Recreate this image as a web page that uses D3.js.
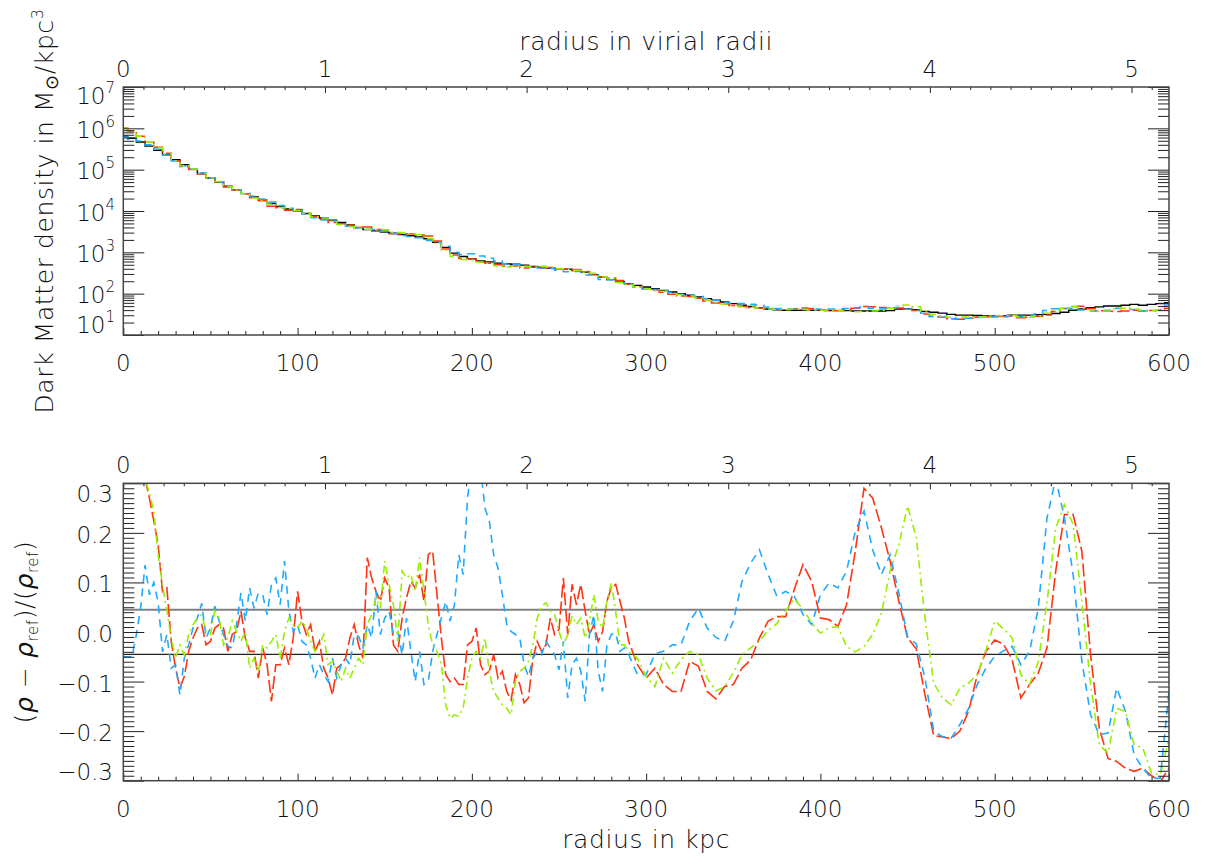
<!DOCTYPE html>
<html>
<head>
<meta charset="utf-8">
<script src="https://cdn.jsdelivr.net/npm/d3@7"></script>
<style>
  html, body { margin: 0; padding: 0; background: #fff; }
  svg text { font-family: "DejaVu Sans", sans-serif; font-weight: 200; fill: #111; }
</style>
</head>
<body>
<svg id="chart" width="1205" height="858"></svg>
<script>
"use strict";

// radial bins in kpc: 2.5 kpc steps inside 290 kpc, 5 kpc steps outside
const radii = [...d3.range(0, 290, 2.5), ...d3.range(290, 601, 5)];

// reference (black) profile, log10 of density, one bin every 5 kpc
const refRadii = d3.range(0, 601, 5);
const refLogDensity = [
  5.81, 5.76, 5.67, 5.57, 5.47, 5.36, 5.24, 5.12, 5.01, 4.90,
  4.80, 4.70, 4.60, 4.51, 4.42, 4.34, 4.26, 4.18, 4.11, 4.05,
  4.00, 3.94, 3.88, 3.83, 3.78, 3.72, 3.66, 3.60, 3.55, 3.52,
  3.49, 3.46, 3.43, 3.40, 3.37, 3.33, 3.24, 3.12, 2.98, 2.90,
  2.84, 2.79, 2.77, 2.74, 2.72, 2.71, 2.69, 2.66, 2.64, 2.62,
  2.60, 2.59, 2.56, 2.52, 2.46, 2.40, 2.34, 2.29, 2.24, 2.20,
  2.16, 2.12, 2.08, 2.04, 2.00, 1.96, 1.92, 1.88, 1.84, 1.80,
  1.76, 1.72, 1.69, 1.66, 1.63, 1.61, 1.60, 1.60, 1.60, 1.60,
  1.60, 1.59, 1.59, 1.59, 1.58, 1.58, 1.58, 1.58, 1.59, 1.63,
  1.63, 1.61, 1.57, 1.55, 1.53, 1.50, 1.48, 1.48, 1.47, 1.46,
  1.46, 1.46, 1.48, 1.48, 1.48, 1.49, 1.50, 1.52, 1.55, 1.60,
  1.63, 1.66, 1.68, 1.70, 1.70, 1.72, 1.74, 1.72, 1.74, 1.76,
  1.78
];

// (rho - rho_ref)/rho_ref of the three runs, on the radii grid
const relRed = [
  0.58, 0.55, 0.50, 0.45, 0.38, 0.31, 0.27, 0.224, 0.176, 0.082,
  0.089, -0.019, -0.073, -0.113, -0.09, -0.039, -0.012, 0.008, 0.015, -0.026,
  -0.019, 0.008, 0.015, 0.008, -0.039, -0.005, 0.001, 0.042, -0.012, -0.039,
  -0.039, -0.093, -0.032, -0.066, -0.14, -0.066, -0.066, -0.032, -0.066, -0.012,
  0.082, 0.022, -0.005, 0.015, -0.039, -0.019, -0.073, -0.093, -0.127, -0.073,
  -0.066, -0.053, -0.012, 0.015, -0.026, -0.053, 0.15, 0.109, 0.082, 0.062,
  0.109, 0.089, -0.026, -0.039, 0.028, 0.069, 0.102, 0.089, 0.116, 0.062,
  0.156, 0.163, 0.075, -0.012, -0.086, -0.1, -0.093, -0.106, -0.106, -0.026,
  -0.019, 0.008, -0.066, -0.086, -0.079, -0.046, -0.093, -0.079, -0.12, -0.137,
  -0.086, -0.106, -0.143, -0.133, -0.053, -0.019, -0.039, -0.026, 0.028, -0.005,
  0.005, 0.109, -0.005, 0.096, 0.055, 0.096, 0.042, -0.005, 0.015, -0.019,
  0.001, 0.062, 0.089, 0.096, 0.062, 0.028,
  -0.019, -0.066, -0.093, -0.073, -0.106, -0.12, -0.12, -0.059, -0.069, -0.12,
  -0.135, -0.11, -0.106, -0.073, -0.056, -0.012, 0.022, 0.031, 0.031, 0.086,
  0.136, 0.102, 0.028, 0.025, 0.011, 0.055, 0.163, 0.29, 0.27, 0.21,
  0.143, 0.062, -0.012, -0.034, -0.127, -0.209, -0.212, -0.215, -0.2, -0.16,
  -0.086, -0.039, -0.016, -0.024, -0.056, -0.133, -0.106, -0.083, -0.032, 0.123,
  0.237, 0.237, 0.163, -0.046, -0.194, -0.255, -0.261, -0.275, -0.281, -0.275,
  -0.29, -0.302, -0.275
];

const relBlue = [
  -0.05, -0.05, -0.05, -0.005, 0.05, 0.135, 0.075, 0.1, 0.06, -0.04,
  -0.005, -0.073, -0.066, -0.127, -0.053, -0.026, 0.008, 0.028, 0.058, -0.012,
  0.008, 0.052, 0.022, -0.005, -0.029, -0.032, 0.015, 0.079, 0.022, 0.089,
  0.048, 0.079, 0.075, 0.035, 0.096, 0.109, 0.055, 0.143, 0.042, 0.001,
  0.015, -0.019, -0.026, -0.053, -0.093, -0.066, -0.086, -0.1, -0.053, -0.093,
  -0.066, -0.053, -0.066, -0.005, -0.009, -0.032, 0.015, -0.012, 0.082, -0.005,
  0.028, 0.042, -0.005, 0.001, -0.046, 0.028, -0.039, -0.1, -0.039, -0.106,
  -0.1, -0.039, -0.005, 0.028, 0.062, 0.022, 0.055, 0.156, 0.116, 0.27,
  0.34, 0.34, 0.33, 0.25, 0.224, 0.156, 0.129, 0.075, 0.015, 0.001,
  -0.005, -0.012, -0.066, -0.09, -0.053, -0.039, -0.046, -0.019, -0.032, -0.046,
  -0.076, -0.019, -0.133, -0.066, -0.053, -0.079, -0.14, -0.005, 0.035, -0.079,
  -0.12, -0.026, -0.005, -0.002, -0.039, -0.032,
  -0.046, -0.086, -0.086, -0.044, -0.039, -0.026, -0.026, 0.022, 0.048, 0.008,
  -0.011, -0.019, 0.022, 0.102, 0.139, 0.166, 0.116, 0.072, 0.082, 0.072,
  0.035, 0.015, 0.075, 0.099, 0.089, 0.123, 0.203, 0.244, 0.166, 0.116,
  0.156, 0.078, -0.01, -0.024, -0.093, -0.2, -0.211, -0.214, -0.187, -0.154,
  -0.106, -0.073, -0.049, -0.038, -0.029, -0.066, -0.039, 0.048, 0.23, 0.31,
  0.23, 0.116, -0.059, -0.167, -0.207, -0.204, -0.113, -0.16, -0.248, -0.275,
  -0.295, -0.295, -0.12
];

const relGreen = [
  0.55, 0.53, 0.50, 0.45, 0.38, 0.31, 0.28, 0.244, 0.156, 0.096,
  0.042, -0.012, -0.053, -0.026, -0.046, -0.005, 0.015, 0.028, 0.035, 0.001,
  -0.005, 0.042, 0.028, -0.026, -0.012, 0.022, 0.001, -0.019, 0.001, -0.073,
  -0.053, -0.079, -0.026, -0.032, -0.019, -0.005, -0.053, 0.001, 0.028, 0.015,
  0.008, 0.022, 0.008, -0.019, -0.039, -0.026, -0.005, -0.066, -0.059, -0.079,
  -0.1, -0.073, -0.093, -0.073, -0.053, -0.066, 0.015, 0.035, 0.069, 0.048,
  0.143, 0.096, 0.055, -0.019, 0.123, 0.109, 0.116, 0.082, 0.15, 0.082,
  0.015, -0.026, -0.039, -0.066, -0.147, -0.174, -0.167, -0.17, -0.154, -0.093,
  -0.053, -0.039, -0.053, -0.012, -0.079, -0.12, -0.133, -0.147, -0.154, -0.167,
  -0.1, -0.079, -0.073, -0.059, -0.026, 0.028, 0.052, 0.059, 0.042, 0.035,
  0.001, -0.026, -0.005, 0.032, 0.015, 0.028, -0.012, 0.022, 0.075, 0.022,
  0.008, 0.062, 0.099, 0.042, -0.026, -0.026,
  -0.039, -0.053, -0.09, -0.11, -0.053, -0.083, -0.056, -0.039, -0.046, -0.093,
  -0.119, -0.11, -0.083, -0.046, -0.032, -0.019, 0.003, 0.017, 0.042, 0.067,
  0.046, 0.018, -0.002, 0.008, 0.011, -0.029, -0.04, -0.029, -0.005, 0.038,
  0.123, 0.176, 0.254, 0.19, 0.028, -0.103, -0.133, -0.147, -0.113, -0.103,
  -0.086, -0.036, 0.022, 0.007, -0.012, -0.086, -0.106, -0.06, 0.06, 0.21,
  0.257, 0.217, 0.062, -0.106, -0.228, -0.244, -0.154, -0.16, -0.228, -0.234,
  -0.285, -0.288, -0.214
];

const bandLimits = [0.045, -0.045];
const rVirial = 115.7; // kpc

const kpcMajor = d3.range(0, 601, 100);
const kpcMinor = d3.range(0, 601, 10).filter(d => d % 100 !== 0);
const virMajor = d3.range(0, 6);
const virMinor = d3.range(1, 52).filter(i => i % 10 !== 0).map(i => i / 10);
const denMajor = d3.range(1, 8).map(k => Math.pow(10, k));
const denMinor = d3.range(1, 7).flatMap(k => d3.range(2, 10).map(m => m * Math.pow(10, k)));
const relMajor = d3.range(-3, 4).map(i => i / 10);
const relMinor = d3.range(-30, 31).filter(i => i % 10 !== 0).map(i => i / 100);

const runs = [
  { name: "red", color: "#ff3314", dash: "13,4", rel: relRed },
  { name: "blue", color: "#1eaaff", dash: "8,6", rel: relBlue },
  { name: "green", color: "#99ee00", dash: "8,4,2,4", rel: relGreen }
];

// layout
const X0 = 123.3, X1 = 1169;
const TOP = [87, 335];
const BOT = [483.3, 780.7];
const axisColor = "#222";

const svg = d3.select("#chart");

const x = d3.scaleLinear().domain([0, 600]).range([X0, X1]);
const xVir = d3.scaleLinear().domain([0, 600 / rVirial]).range([X0, X1]);
const yDen = d3.scaleLog().domain([10, 1e7]).range([TOP[1], TOP[0]]);
const yRel = d3.scaleLinear().domain([-0.3, 0.3]).range([BOT[1], BOT[0]]);

function tickSet(sel, axis, values, size) {
  sel.call(axis.tickValues(values).tickSize(size).tickFormat(""));
  sel.select(".domain").remove();
  sel.selectAll(".tick line").attr("stroke", axisColor).attr("stroke-width", 1);
}

function frame(yScale, yr, yMajor, yMinor, yMajLen, yMinLen) {
  const g = svg.append("g");
  g.append("g").attr("transform", `translate(0,${yr[1]})`).call(s => tickSet(s, d3.axisBottom(x), kpcMajor, -7));
  g.append("g").attr("transform", `translate(0,${yr[1]})`).call(s => tickSet(s, d3.axisBottom(x), kpcMinor, -4));
  g.append("g").attr("transform", `translate(0,${yr[0]})`).call(s => tickSet(s, d3.axisTop(xVir), virMajor, -6));
  g.append("g").attr("transform", `translate(0,${yr[0]})`).call(s => tickSet(s, d3.axisTop(xVir), virMinor, -3));
  g.append("g").attr("transform", `translate(${X0},0)`).call(s => tickSet(s, d3.axisLeft(yScale), yMajor, -yMajLen));
  g.append("g").attr("transform", `translate(${X0},0)`).call(s => tickSet(s, d3.axisLeft(yScale), yMinor, -yMinLen));
  g.append("g").attr("transform", `translate(${X1},0)`).call(s => tickSet(s, d3.axisRight(yScale), yMajor, -yMajLen));
  g.append("g").attr("transform", `translate(${X1},0)`).call(s => tickSet(s, d3.axisRight(yScale), yMinor, -yMinLen));
  g.append("rect")
    .attr("x", X0).attr("y", yr[0])
    .attr("width", X1 - X0).attr("height", yr[1] - yr[0])
    .attr("fill", "none").attr("stroke", "#444").attr("stroke-width", 1.5);

  // kpc labels below, virial radius labels above
  g.selectAll(".kpcLab").data(kpcMajor).join("text")
    .attr("x", d => x(d)).attr("y", yr[1] + 36)
    .attr("text-anchor", "middle").attr("font-size", 23).text(d => d);
  g.selectAll(".virLab").data(virMajor).join("text")
    .attr("x", d => xVir(d)).attr("y", yr[0] - 10)
    .attr("text-anchor", "middle").attr("font-size", 23).text(d => d);
  return g;
}

const defs = svg.append("defs");
defs.append("clipPath").attr("id", "clipTop").append("rect")
  .attr("x", X0).attr("y", TOP[0]).attr("width", X1 - X0).attr("height", TOP[1] - TOP[0]);
defs.append("clipPath").attr("id", "clipBot").append("rect")
  .attr("x", X0).attr("y", BOT[0]).attr("width", X1 - X0).attr("height", BOT[1] - BOT[0]);

// ---------- top panel: density profiles ----------
const lineDen = d3.line().x(d => x(d.r)).y(d => yDen(d.v)).curve(d3.curveStep);
const refData = refRadii.map((r, i) => ({ r, v: Math.pow(10, refLogDensity[i]) }));

const gTop = svg.append("g").attr("clip-path", "url(#clipTop)");
gTop.append("path").datum(refData)
  .attr("d", lineDen).attr("fill", "none").attr("stroke", "#000").attr("stroke-width", 1.4);

runs.forEach(run => {
  const data = radii
    .map((r, i) => ({ r, rel: run.rel[i] }))
    .filter(d => d.r % 5 === 0)
    .map(d => ({ r: d.r, v: Math.pow(10, refLogDensity[d.r / 5]) * (1 + d.rel) }));
  gTop.append("path").datum(data)
    .attr("d", lineDen).attr("fill", "none")
    .attr("stroke", run.color).attr("stroke-width", 1.5)
    .attr("stroke-dasharray", run.dash);
});

frame(yDen, TOP, denMajor, denMinor, 21, 11);

svg.selectAll(".denLab").data(denMajor).join("text")
  .attr("x", 115)
  .attr("y", d => Math.min(333, Math.max(104, yDen(d) + 9.5)))
  .attr("text-anchor", "end").attr("font-size", 23)
  .each(function (d) {
    const t = d3.select(this);
    t.append("tspan").text("10");
    t.append("tspan").attr("font-size", 15).attr("dy", -11).text(Math.round(Math.log10(d)));
  });

// ---------- bottom panel: relative differences ----------
const lineRel = d3.line().x(d => x(d.r)).y(d => yRel(d.v));
const gBot = svg.append("g").attr("clip-path", "url(#clipBot)");

gBot.selectAll(".band").data(bandLimits).join("line")
  .attr("x1", X0).attr("x2", X1)
  .attr("y1", d => yRel(d)).attr("y2", d => yRel(d))
  .attr("stroke", d => d > 0 ? "#808080" : "#222")
  .attr("stroke-width", d => d > 0 ? 2 : 1.3);

runs.forEach(run => {
  const data = radii.map((r, i) => ({ r, v: run.rel[i] }));
  gBot.append("path").datum(data)
    .attr("d", lineRel).attr("fill", "none")
    .attr("stroke", run.color).attr("stroke-width", 1.6)
    .attr("stroke-dasharray", run.dash);
});

frame(yRel, BOT, relMajor, relMinor, 21, 11);

const fmt = d3.format(".1f");
svg.selectAll(".relLab").data(relMajor).join("text")
  .attr("x", 113)
  .attr("y", d => Math.min(780, Math.max(502, yRel(d) + 10)))
  .attr("text-anchor", "end").attr("font-size", 23)
  .text(d => fmt(d));

// ---------- titles ----------
svg.append("text")
  .attr("x", (X0 + X1) / 2).attr("y", 50)
  .attr("text-anchor", "middle").attr("font-size", 25).attr("letter-spacing", 0.6)
  .text("radius in virial radii");

svg.append("text")
  .attr("x", (X0 + X1) / 2).attr("y", 848)
  .attr("text-anchor", "middle").attr("font-size", 25).attr("letter-spacing", 0.6)
  .text("radius in kpc");

const yt = svg.append("text")
  .attr("transform", `translate(53,${(TOP[0] + TOP[1]) / 2}) rotate(-90)`)
  .attr("text-anchor", "middle").attr("font-size", 25).attr("letter-spacing", 0.6);
yt.append("tspan").text("Dark Matter density in M");
yt.append("tspan").attr("font-size", 18).attr("dy", 5).text("\u2299");
yt.append("tspan").attr("dy", -5).text("/kpc");
yt.append("tspan").attr("font-size", 16).attr("dy", -10).text("3");

const yb = svg.append("text")
  .attr("transform", `translate(33,${(BOT[0] + BOT[1]) / 2}) rotate(-90)`)
  .attr("text-anchor", "middle").attr("font-size", 25).attr("letter-spacing", 0.6);
yb.append("tspan").text("(");
yb.append("tspan").attr("font-style", "italic").text("\u03c1");
yb.append("tspan").text(" \u2212 ");
yb.append("tspan").attr("font-style", "italic").text("\u03c1");
yb.append("tspan").attr("font-size", 15).attr("dy", 5).text("ref");
yb.append("tspan").attr("dy", -5).text(")/(");
yb.append("tspan").attr("font-style", "italic").text("\u03c1");
yb.append("tspan").attr("font-size", 15).attr("dy", 5).text("ref");
yb.append("tspan").attr("dy", -5).text(")");
</script>
</body>
</html>
